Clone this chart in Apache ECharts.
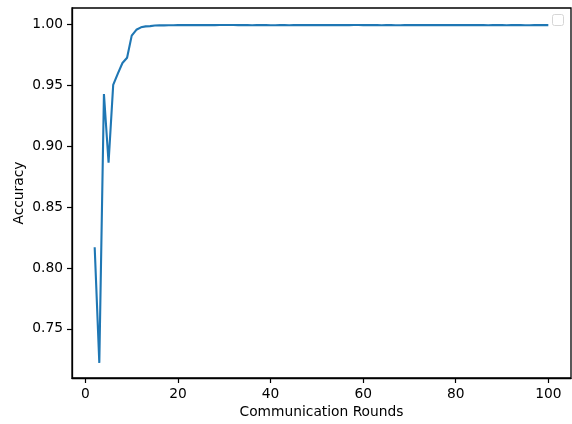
<!DOCTYPE html>
<html>
<head>
<meta charset="utf-8">
<script src="https://cdn.jsdelivr.net/npm/echarts@6/dist/echarts.min.js"></script>
<style>
  html, body { margin: 0; padding: 0; background: #fff; }
  #chart { width: 572px; height: 424px; }
</style>
</head>
<body>
<div id="chart"></div>
<script>
// communication rounds 2..100
const rounds = []
for (let r = 2; r <= 100; r++) rounds.push(r)

// accuracy per round
const accuracy = [
  0.817, 0.722, 0.943, 0.8865, 0.9505, 0.9598, 0.9685, 0.9728, 0.9910, 0.9958,
  0.9978, 0.9986, 0.9988, 0.9993, 0.9994, 0.9994, 0.9995, 0.9995, 0.9996, 0.9996,
  0.9996, 0.9997, 0.9996, 0.9996, 0.9997, 0.9996, 0.9996, 0.9997, 0.9997, 0.9997,
  0.9997, 0.9996, 0.9996, 0.9996, 0.9995, 0.9996, 0.9996, 0.9996, 0.9995, 0.9995,
  0.9996, 0.9996, 0.9995, 0.9996, 0.9996, 0.9996, 0.9996, 0.9996, 0.9996, 0.9996,
  0.9996, 0.9996, 0.9996, 0.9996, 0.9996, 0.9996, 0.9997, 0.9997, 0.9996, 0.9996,
  0.9996, 0.9996, 0.9995, 0.9996, 0.9996, 0.9995, 0.9995, 0.9996, 0.9996, 0.9996,
  0.9996, 0.9996, 0.9996, 0.9996, 0.9996, 0.9996, 0.9996, 0.9996, 0.9996, 0.9996,
  0.9996, 0.9996, 0.9996, 0.9997, 0.9996, 0.9995, 0.9996, 0.9996, 0.9996, 0.9995,
  0.9996, 0.9996, 0.9996, 0.9995, 0.9995, 0.9996, 0.9996, 0.9996, 0.9996
]

const xTicks = [0, 20, 40, 60, 80, 100]
const yTicks = [0.75, 0.80, 0.85, 0.90, 0.95, 1.00]

const font = 'DejaVu Sans'
const chart = echarts.init(document.getElementById('chart'))

chart.setOption({
  animation: false,
  grid: {
    left: 72,
    right: 1,
    top: 8,
    bottom: 46,
    show: true,
    borderColor: '#000',
    borderWidth: 1.3
  },
  xAxis: {
    type: 'value',
    min: -2.9,
    max: 104.9,
    name: 'Communication Rounds',
    nameLocation: 'middle',
    nameGap: 27,
    nameMoveOverlap: false,
    nameTextStyle: { color: '#000', fontFamily: font, fontSize: 13.8 },
    axisLine: { show: true, onZero: false, lineStyle: { color: '#000', width: 1.3 } },
    axisTick: { show: true, inside: false, length: 5, customValues: xTicks, lineStyle: { color: '#000', width: 1.2 } },
    axisLabel: { customValues: xTicks, margin: 9, color: '#000', fontFamily: font, fontSize: 13.8 },
    splitLine: { show: false }
  },
  yAxis: {
    type: 'value',
    min: 0.7096,
    max: 1.0137,
    name: 'Accuracy',
    nameLocation: 'middle',
    nameGap: 46,
    nameMoveOverlap: false,
    nameTextStyle: { color: '#000', fontFamily: font, fontSize: 13.8 },
    axisLine: { show: true, onZero: false, lineStyle: { color: '#000', width: 1.3 } },
    axisTick: { show: true, inside: false, length: 5, customValues: yTicks, lineStyle: { color: '#000', width: 1.2 } },
    axisLabel: {
      customValues: yTicks,
      margin: 9,
      color: '#000',
      fontFamily: font,
      fontSize: 13.8,
      formatter: v => v.toFixed(2)
    },
    splitLine: { show: false }
  },
  graphic: [{
    // empty legend box, top right
    type: 'rect',
    left: 552,
    top: 14,
    shape: { width: 11, height: 11, r: 2 },
    style: { fill: '#fff', stroke: '#d6d6d6', lineWidth: 1 },
    z: 10
  }],
  series: [{
    type: 'line',
    data: rounds.map((r, i) => [r, accuracy[i]]),
    showSymbol: false,
    color: '#1f77b4',
    lineStyle: { width: 2.1, color: '#1f77b4' }
  }]
})
</script>
</body>
</html>
